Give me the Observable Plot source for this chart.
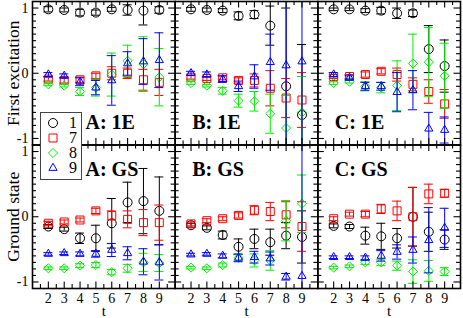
<!DOCTYPE html>
<html><head><meta charset="utf-8">
<script src="https://cdn.jsdelivr.net/npm/d3@7"></script>
<script src="https://cdn.jsdelivr.net/npm/@observablehq/plot@0.6"></script>
<style>
html,body{margin:0;padding:0;background:#fff;}
#chart{width:463px;height:318px;}
#chart svg, #chart svg text{font-family:"Liberation Serif","DejaVu Serif","Times New Roman",serif !important;}
</style>
</head><body><div id="chart"></div>
<script>
// ---- categories / labels ----
const tValues = [2, 3, 4, 5, 6, 7, 8, 9];
const columns = ["A", "B", "C"];
const rows = ["1E", "GS"];
const rowTitles = ["First excitation", "Ground state"];
const seriesNames = ["1", "7", "8", "9"];
const seriesColors = ["#000000", "#ff0000", "#00ee00", "#0000ff"];
const seriesSymbols = ["circle", "square", "diamond2", "triangle2"];
const xTickLabels = [2, 3, 4, 5, 6, 7, 8, 9];
const yTickLabels = [-1, 0, 1];

// ---- A: First excitation ----
const A1E_1 = [0.98, 0.97, 0.93, 0.93, 0.98, 0.97, 0.96, 0.97];
const A1E_1_err = [0.04, 0.03, 0.05, 0.04, 0.03, 0.08, 0.22, 0.05];
const A1E_7 = [-0.09, -0.11, -0.10, -0.04, 0.00, 0.00, -0.10, -0.14];
const A1E_7_err = [0.03, 0.04, 0.04, 0.04, 0.10, 0.08, 0.16, 0.20];
const A1E_8 = [-0.17, -0.19, -0.28, -0.22, -0.02, 0.19, 0.14, -0.06];
const A1E_8_err = [0.02, 0.02, 0.06, 0.13, 0.33, 0.24, 0.42, 0.44];
const A1E_9 = [-0.02, -0.04, -0.13, -0.22, -0.11, 0.15, 0.18, 0.20];
const A1E_9_err = [0.03, 0.03, 0.06, 0.11, 0.38, 0.18, 0.35, 0.42];

// ---- B: First excitation ----
const B1E_1 = [0.98, 0.97, 0.96, 0.88, 0.90, 0.73, -0.20, -0.64];
const B1E_1_err = [0.03, 0.03, 0.03, 0.06, 0.06, 0.30, 1.20, 1.08];
const B1E_7 = [-0.06, -0.08, -0.07, -0.11, -0.11, -0.23, -0.38, -0.41];
const B1E_7_err = [0.03, 0.03, 0.03, 0.04, 0.10, 0.27, 0.30, 0.42];
const B1E_8 = [-0.15, -0.19, -0.27, -0.42, -0.43, -0.62, -0.84, -0.60];
const B1E_8_err = [0.02, 0.02, 0.05, 0.10, 0.15, 0.30, 0.50, 0.55];
const B1E_9 = [0.00, -0.02, -0.09, -0.20, -0.05, 0.17, 0.12, 0.18];
const B1E_9_err = [0.03, 0.04, 0.05, 0.08, 0.18, 0.43, 1.30, 1.30];

// ---- C: First excitation ----
const C1E_1 = [0.98, 0.98, 0.96, 0.96, 0.92, 0.92, 0.37, 0.11];
const C1E_1_err = [0.02, 0.02, 0.03, 0.05, 0.08, 0.05, 0.36, 0.40];
const C1E_7 = [-0.05, -0.05, -0.02, 0.03, -0.02, -0.17, -0.28, -0.47];
const C1E_7_err = [0.03, 0.03, 0.04, 0.04, 0.10, 0.10, 0.18, 0.22];
const C1E_8 = [-0.15, -0.13, -0.20, -0.22, -0.19, 0.15, 0.17, -0.04];
const C1E_8_err = [0.02, 0.02, 0.07, 0.08, 0.38, 0.45, 0.53, 0.50];
const C1E_9 = [-0.02, -0.07, -0.20, -0.20, -0.29, -0.26, -0.85, -0.87];
const C1E_9_err = [0.03, 0.03, 0.06, 0.06, 0.30, 0.30, 0.25, 0.20];

// ---- A: Ground state ----
const AGS_1 = [-0.15, -0.19, -0.33, -0.33, -0.10, 0.22, 0.24, 0.09];
const AGS_1_err = [0.03, 0.03, 0.08, 0.20, 0.38, 0.31, 0.50, 0.52];
const AGS_7 = [-0.10, -0.08, -0.05, 0.09, 0.02, -0.04, -0.09, -0.09];
const AGS_7_err = [0.03, 0.03, 0.03, 0.04, 0.07, 0.13, 0.20, 0.27];
const AGS_8 = [-0.79, -0.79, -0.75, -0.74, -0.85, -0.79, -0.70, -0.71];
const AGS_8_err = [0.02, 0.02, 0.03, 0.04, 0.04, 0.06, 0.14, 0.13];
const AGS_9 = [-0.57, -0.56, -0.57, -0.57, -0.51, -0.56, -0.69, -0.70];
const AGS_9_err = [0.02, 0.02, 0.03, 0.05, 0.10, 0.10, 0.20, 0.27];

// ---- B: Ground state ----
const BGS_1 = [-0.13, -0.17, -0.28, -0.46, -0.34, -0.39, -0.29, -0.31];
const BGS_1_err = [0.03, 0.03, 0.06, 0.12, 0.15, 0.20, 0.20, 0.40];
const BGS_7 = [-0.11, -0.06, -0.03, 0.02, 0.10, 0.08, 0.03, -0.15];
const BGS_7_err = [0.03, 0.03, 0.03, 0.04, 0.07, 0.14, 0.20, 0.38];
const BGS_8 = [-0.78, -0.79, -0.74, -0.63, -0.67, -0.67, -0.06, 0.20];
const BGS_8_err = [0.02, 0.02, 0.03, 0.05, 0.10, 0.15, 0.31, 0.44];
const BGS_9 = [-0.58, -0.57, -0.60, -0.63, -0.62, -0.64, -0.92, -0.91];
const BGS_9_err = [0.02, 0.02, 0.03, 0.06, 0.09, 0.10, 0.05, 2.00];

// ---- C: Ground state ----
const CGS_1 = [-0.14, -0.15, -0.29, -0.30, -0.33, 0.00, -0.23, -0.35];
const CGS_1_err = [0.03, 0.03, 0.13, 0.20, 0.15, 0.45, 0.30, 0.15];
const CGS_7 = [-0.03, 0.04, 0.04, 0.12, 0.09, 0.00, 0.35, 0.36];
const CGS_7_err = [0.03, 0.03, 0.04, 0.07, 0.15, 0.45, 0.15, 0.06];
const CGS_8 = [-0.78, -0.76, -0.70, -0.70, -0.75, -0.84, -0.83, -0.84];
const CGS_8_err = [0.02, 0.02, 0.03, 0.05, 0.07, 0.18, 0.16, 0.06];
const CGS_9 = [-0.62, -0.62, -0.63, -0.60, -0.54, -0.51, -0.36, -0.17];
const CGS_9_err = [0.02, 0.02, 0.03, 0.08, 0.11, 0.20, 0.50, 0.30];

// ---- build table ----
const panels = [
  ["A", "1E", [A1E_1, A1E_7, A1E_8, A1E_9], [A1E_1_err, A1E_7_err, A1E_8_err, A1E_9_err]],
  ["B", "1E", [B1E_1, B1E_7, B1E_8, B1E_9], [B1E_1_err, B1E_7_err, B1E_8_err, B1E_9_err]],
  ["C", "1E", [C1E_1, C1E_7, C1E_8, C1E_9], [C1E_1_err, C1E_7_err, C1E_8_err, C1E_9_err]],
  ["A", "GS", [AGS_1, AGS_7, AGS_8, AGS_9], [AGS_1_err, AGS_7_err, AGS_8_err, AGS_9_err]],
  ["B", "GS", [BGS_1, BGS_7, BGS_8, BGS_9], [BGS_1_err, BGS_7_err, BGS_8_err, BGS_9_err]],
  ["C", "GS", [CGS_1, CGS_7, CGS_8, CGS_9], [CGS_1_err, CGS_7_err, CGS_8_err, CGS_9_err]]
];
const points = [];
for (const [fx, fy, vals, errs] of panels) {
  vals.forEach((arr, s) => arr.forEach((v, i) => {
    points.push({fx, fy, series: seriesNames[s], t: tValues[i], v, e: errs[s][i]});
  }));
}

const FONT = "'Liberation Serif', 'DejaVu Serif', 'Times New Roman', serif";
const xDomain = [1, 10];
const yDomain = [-1.1, 1.1];
const xMajor = tValues;
const xMinor = d3.range(1.5, 10, 1);
const yMajor = yTickLabels;
const yMinor = d3.range(-9, 10).filter(k => k !== 0).map(k => k / 10);
const symbolR = [4.5, 4.5, 4.1, 3.9];

const marks = [];
// data: per series error bars, caps, symbols
seriesNames.forEach((name, s) => {
  const d = points.filter(p => p.series === name);
  const c = seriesColors[s];
  marks.push(Plot.ruleX(d, {fx: "fx", fy: "fy", x: "t", y1: p => p.v - p.e, y2: p => p.v + p.e, stroke: c, strokeWidth: 1, clip: true}));
  marks.push(Plot.ruleY(d, {fx: "fx", fy: "fy", y: p => p.v - p.e, x1: "t", x2: "t", insetLeft: -4.5, insetRight: -4.5, stroke: c, strokeWidth: 1, clip: true}));
  marks.push(Plot.ruleY(d, {fx: "fx", fy: "fy", y: p => p.v + p.e, x1: "t", x2: "t", insetLeft: -4.5, insetRight: -4.5, stroke: c, strokeWidth: 1, clip: true}));
  marks.push(Plot.dot(d, {fx: "fx", fy: "fy", x: "t", y: "v", symbol: seriesSymbols[s], r: symbolR[s], stroke: c, fill: "none", strokeWidth: 1}));
});

// inward ticks on all four sides of every panel
const tickStyle = {stroke: "black", strokeWidth: 1.1};
const addTicksX = (vals, len) => {
  marks.push(Plot.ruleX(vals, {x: d => d, y1: yDomain[0], y2: yDomain[0], insetBottom: len, ...tickStyle}));
  marks.push(Plot.ruleX(vals, {x: d => d, y1: yDomain[1], y2: yDomain[1], insetBottom: -len, ...tickStyle}));
};
const addTicksY = (vals, len) => {
  marks.push(Plot.ruleY(vals, {y: d => d, x1: xDomain[0], x2: xDomain[0], insetRight: -len, ...tickStyle}));
  marks.push(Plot.ruleY(vals, {y: d => d, x1: xDomain[1], x2: xDomain[1], insetRight: len, ...tickStyle}));
};
addTicksX(xMajor, 6.5); addTicksX(xMinor, 4);
addTicksY(yMajor, 6.5); addTicksY(yMinor, 4);

marks.push(Plot.frame({stroke: "black", strokeWidth: 1.6}));

// axes labels
marks.push(Plot.axisX({ticks: xTickLabels, tickSize: 0, tickPadding: 5, label: null, tickFormat: d => String(d), fontSize: 14, fontFamily: FONT}));
marks.push(Plot.axisY({ticks: yTickLabels, tickSize: 0, tickPadding: 4, label: null, tickFormat: d => String(d), fontSize: 14, fontFamily: FONT}));

const tLabels = columns.map(c => ({fx: c, fy: "GS", text: "t"}));
marks.push(Plot.text(tLabels, {fx: "fx", fy: "fy", text: "text", frameAnchor: "bottom", textAnchor: "middle", lineAnchor: "bottom", dy: 27, fontSize: 15, fontFamily: FONT}));

const rowTitleData = rows.map((r, i) => ({fx: "A", fy: r, text: rowTitles[i]}));
marks.push(Plot.text(rowTitleData, {fx: "fx", fy: "fy", text: "text", frameAnchor: "left", textAnchor: "middle", lineAnchor: "middle", dx: -19, rotate: -90, fontSize: 17.5, fontFamily: FONT}));

const panelLabels = [];
rows.forEach(r => columns.forEach(c => panelLabels.push({fx: c, fy: r, text: `${c}: ${r}`})));
const labelStyle = {fx: "fx", fy: "fy", text: "text", textAnchor: "start", lineAnchor: "bottom", fontSize: 20, fontWeight: "bold", fontFamily: FONT};
marks.push(Plot.text(panelLabels.filter(p => p.fy === "1E" && p.fx === "A"), {...labelStyle, frameAnchor: "bottom-left", dx: 53, dy: -16.5}));
marks.push(Plot.text(panelLabels.filter(p => p.fy === "1E" && p.fx !== "A"), {...labelStyle, frameAnchor: "bottom-left", dx: 17, dy: -16.5}));
marks.push(Plot.text(panelLabels.filter(p => p.fy === "GS" && p.fx === "A"), {...labelStyle, frameAnchor: "top-left", dx: 53, dy: 30.5}));
marks.push(Plot.text(panelLabels.filter(p => p.fy === "GS" && p.fx !== "A"), {...labelStyle, frameAnchor: "top-left", dx: 17, dy: 30.5}));

const chart = Plot.plot({
  width: 463,
  height: 318,
  marginLeft: 32,
  marginRight: 3,
  marginTop: 1,
  marginBottom: 30,
  style: "font-family:" + FONT + ";font-size:14px;background:white;color:black;overflow:visible;",
  fx: {domain: columns, padding: 0, round: false, axis: null},
  fy: {domain: rows, padding: 0, round: false, axis: null},
  x: {domain: xDomain, nice: false},
  y: {domain: yDomain, nice: false},
  marks
});
document.getElementById("chart").appendChild(chart);

// legend overlay (on top of the panels)
const symbolMap = {circle: d3.symbolCircle, square: d3.symbolSquare, diamond2: d3.symbolDiamond2, triangle2: d3.symbolTriangle2};
const svg = d3.select(chart);
const lg = svg.append("g").style("font-family", FONT);
lg.append("rect").attr("x", 40.5).attr("y", 112.5).attr("width", 41).attr("height", 67)
  .attr("fill", "white").attr("stroke", "#444").attr("stroke-width", 1);
seriesNames.forEach((name, i) => {
  const cy = 123 + 15 * i;
  const r = symbolR[i];
  lg.append("path").attr("d", d3.symbol(symbolMap[seriesSymbols[i]], Math.PI * r * r)())
    .attr("transform", `translate(53,${cy})`).attr("fill", "none").attr("stroke", seriesColors[i]).attr("stroke-width", 1);
  lg.append("text").attr("x", 73).attr("y", cy).attr("dy", "0.34em").attr("text-anchor", "middle")
    .style("font-size", "16px").style("font-family", FONT).attr("fill", "black").text(name);
});
</script>
</body></html>
